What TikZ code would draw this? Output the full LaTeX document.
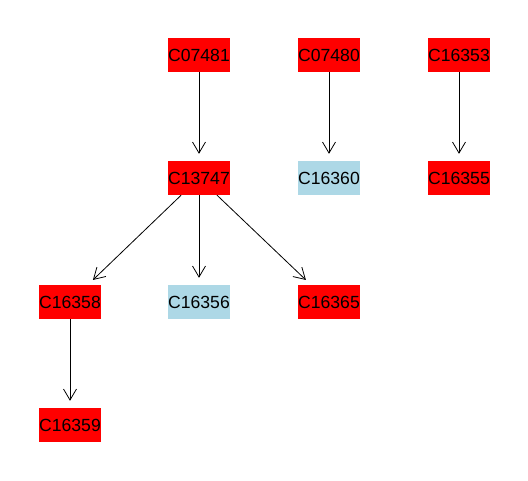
\documentclass[tikz,border=0pt]{standalone}
\usepackage{fontspec}
\setmainfont{Liberation Sans}
\usetikzlibrary{arrows.meta}
\definecolor{lblue}{HTML}{ADD8E6}
\definecolor{red0}{HTML}{FF0000}
\begin{document}
\begin{tikzpicture}[x=1pt,y=-1pt,
  box/.style={minimum width=62pt,minimum height=34pt,inner sep=0pt,font=\fontsize{17.6}{18}\selectfont},
  rbox/.style={box,fill=red0},
  bbox/.style={box,fill=lblue},
  edge/.style={draw,line width=0.8pt,-{Straight Barb[length=11pt,width=13pt,line width=0.8pt]},shorten >=7pt}]
\useasboundingbox (0,0) rectangle (528,480);
\node[rbox] (a) at (199,55) {C07481};
\node[rbox] (b) at (329,55) {C07480};
\node[rbox] (c) at (459,55) {C16353};
\node[rbox] (d) at (199,178) {C13747};
\node[bbox] (e) at (329,178) {C16360};
\node[rbox] (f) at (459,178) {C16355};
\node[rbox] (g) at (70,302) {C16358};
\node[bbox] (h) at (199,302) {C16356};
\node[rbox] (i) at (329,302) {C16365};
\node[rbox] (j) at (70,425) {C16359};
\draw[edge] (a) -- (d);
\draw[edge] (b) -- (e);
\draw[edge] (c) -- (f);
\draw[edge] (d) -- (g);
\draw[edge] (d) -- (h);
\draw[edge] (d) -- (i);
\draw[edge] (g) -- (j);
\end{tikzpicture}
\end{document}
